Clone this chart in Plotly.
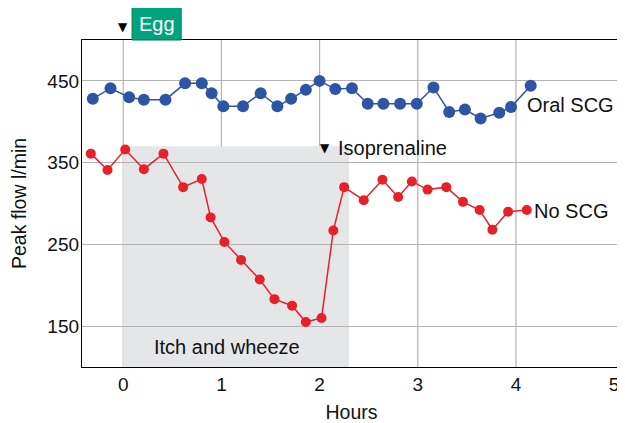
import plotly.graph_objects as go

# Oral SCG (blue)
time_oral = [-0.31, -0.13, 0.06, 0.21, 0.43, 0.63, 0.80, 0.90, 1.02, 1.22, 1.40, 1.57, 1.71,
             1.86, 2.00, 2.16, 2.33, 2.49, 2.65, 2.82, 2.99, 3.16, 3.32, 3.48, 3.64, 3.83, 3.95, 4.15]
flow_oral = [428, 441, 430, 427, 427, 447, 447, 435, 419, 419, 435, 419, 428,
             439, 450, 440, 441, 422, 422, 422, 422, 442, 412, 415, 404, 411, 418, 444]

# No SCG (red)
time_no = [-0.33, -0.16, 0.02, 0.21, 0.41, 0.61, 0.80, 0.89, 1.03, 1.20, 1.39, 1.54, 1.72,
           1.86, 2.02, 2.14, 2.25, 2.45, 2.64, 2.80, 2.94, 3.10, 3.29, 3.46, 3.63, 3.76, 3.92, 4.11]
flow_no = [361, 341, 366, 342, 361, 320, 330, 283, 253, 231, 207, 183, 175,
           155, 160, 267, 320, 304, 329, 308, 327, 317, 320, 302, 292, 268, 290, 292]

x_ticks = [0, 1, 2, 3, 4, 5]
x_grid = [0, 1, 2, 3, 4]
y_ticks = [150, 250, 350, 450]

episode_start, episode_end, episode_top = 0, 2.30, 370

FONT = "Liberation Sans, Arial, Helvetica, sans-serif"
BLUE = "#2d54a5"
RED = "#e8202a"
GREEN = "#00a37a"

fig = go.Figure()

fig.add_trace(go.Scatter(x=time_oral, y=flow_oral, mode="lines+markers",
                         line=dict(color=BLUE, width=1.5),
                         marker=dict(color=BLUE, size=12), showlegend=False))
fig.add_trace(go.Scatter(x=time_no, y=flow_no, mode="lines+markers",
                         line=dict(color=RED, width=1.5),
                         marker=dict(color=RED, size=10), showlegend=False))

shapes = [dict(type="rect", xref="x", yref="y", x0=episode_start, x1=episode_end,
               y0=100, y1=episode_top, fillcolor="#e5e6e8", line=dict(width=0), layer="below")]
for gx in x_grid:
    shapes.append(dict(type="line", xref="x", yref="paper", x0=gx, x1=gx, y0=0, y1=1,
                       line=dict(color="#b3b3b3", width=1.2), layer="below"))
# Egg box above the plot
shapes.append(dict(type="rect", xref="x", yref="paper", x0=0.09, x1=0.59, y0=1.0, y1=1.1,
                   fillcolor=GREEN, line=dict(color="#00795a", width=1)))
fig.update_layout(shapes=shapes)

ann = [
    dict(x=0.34, y=1.05, xref="x", yref="paper", text="Egg", showarrow=False,
         xanchor="center", yanchor="middle",
         font=dict(color="white", size=20, family=FONT)),
    dict(x=0, y=1.04, xref="x", yref="paper", text="▼", showarrow=False,
         xanchor="center", yanchor="middle",
         font=dict(color="black", size=12, family="DejaVu Sans")),
    dict(x=2.06, y=368, xref="x", yref="y", text="▼", showarrow=False,
         font=dict(color="black", size=12, family="DejaVu Sans")),
    dict(x=2.17, y=368, xref="x", yref="y", text="Isoprenaline", showarrow=False,
         xanchor="left", font=dict(color="#111", size=20, family=FONT)),
    dict(x=1.06, y=124, xref="x", yref="y", text="Itch and wheeze", showarrow=False,
         font=dict(color="#111", size=20, family=FONT), bgcolor="#e5e6e8"),
    dict(x=4.09, y=420, xref="x", yref="y", text="Oral SCG", showarrow=False,
         xanchor="left", font=dict(color="#111", size=20, family=FONT)),
    dict(x=4.16, y=291, xref="x", yref="y", text="No SCG", showarrow=False,
         xanchor="left", font=dict(color="#111", size=20, family=FONT)),
]
fig.update_layout(annotations=ann)

# page body has an 8px margin, so the figure is sized to fit the 625x423 window
fig.update_layout(
    width=617, height=415,
    margin=dict(l=74, r=4, t=32, b=56, autoexpand=False),
    plot_bgcolor="white", paper_bgcolor="white",
    font=dict(family=FONT, size=19, color="#111"),
    xaxis=dict(range=[-0.42, 5.07], tickvals=x_ticks, showgrid=False, zeroline=False,
               showline=True, linecolor="black", linewidth=1.3, mirror=True,
               ticks="", automargin=False,
               title=dict(text="Hours", font=dict(size=19.5, family=FONT, color="#111"))),
    yaxis=dict(range=[100, 500], tickvals=y_ticks, showgrid=True, gridcolor="#b3b3b3",
               gridwidth=1.2, zeroline=False, showline=True, linecolor="black",
               linewidth=1.3, mirror=True, ticks="", automargin=False,
               ticklabelstandoff=-2,
               title=dict(text="Peak flow l/min", font=dict(size=19.5, family=FONT, color="#111"))),
)

fig.write_html("out.html")
